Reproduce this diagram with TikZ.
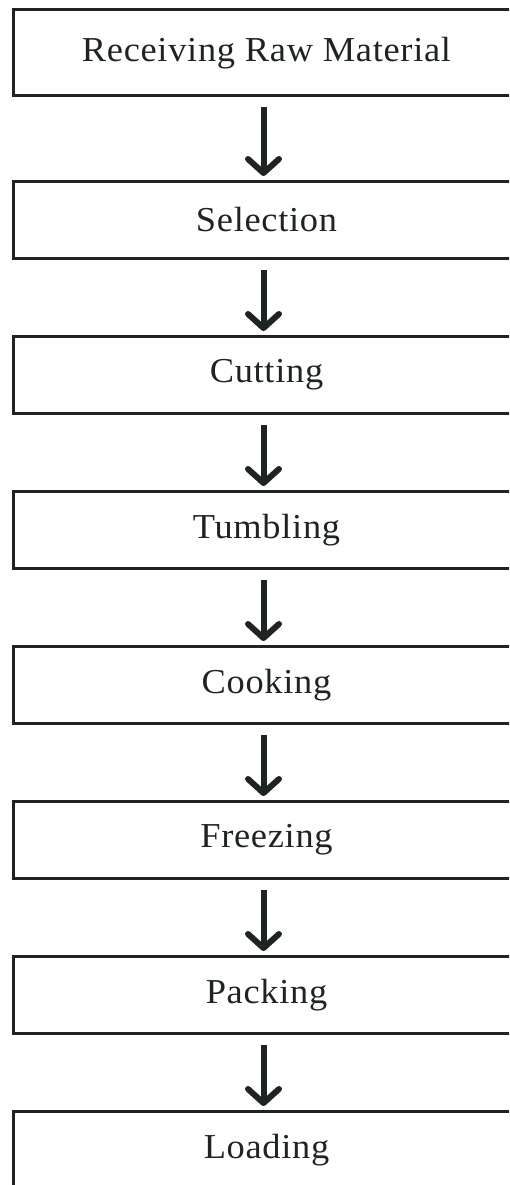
\documentclass[tikz,border=0pt]{standalone}
\usepackage{fontspec}
\setmainfont{Liberation Serif}[LetterSpace=2,FakeStretch=1.04]
\usetikzlibrary{arrows.meta}
\definecolor{ink}{HTML}{1E2422}
\begin{document}
\begin{tikzpicture}[x=1pt,y=-1pt,
  stage/.style={draw=ink, line width=3pt, rectangle, minimum width=507pt, inner sep=0pt,
    text=ink, font=\fontsize{35}{40}\selectfont},
  flow/.style={draw=ink, line width=6pt, -{Straight Barb[round,length=14pt,width=31pt]},
    shorten <=10pt, shorten >=4pt}]
\useasboundingbox (0,0) rectangle (509,1185);
\clip (0,0) rectangle (509,1185);
\node[stage, minimum height=86pt] (b1) at (266.5,53) {Receiving Raw Material};
\node[stage, minimum height=77pt] (b2) at (266.5,220) {Selection};
\node[stage, minimum height=77pt] (b3) at (266.5,375) {Cutting};
\node[stage, minimum height=77pt] (b4) at (266.5,530) {Tumbling};
\node[stage, minimum height=77pt] (b5) at (266.5,685) {Cooking};
\node[stage, minimum height=77pt] (b6) at (266.5,840) {Freezing};
\node[stage, minimum height=77pt] (b7) at (266.5,995) {Packing};
\node[stage, minimum height=77pt] (b8) at (266.5,1150) {Loading};
\foreach \a/\b in {b1/b2,b2/b3,b3/b4,b4/b5,b5/b6,b6/b7,b7/b8}
  \draw[flow] ([xshift=-3pt]\a.south) -- ([xshift=-3pt]\b.north);
\end{tikzpicture}
\end{document}
